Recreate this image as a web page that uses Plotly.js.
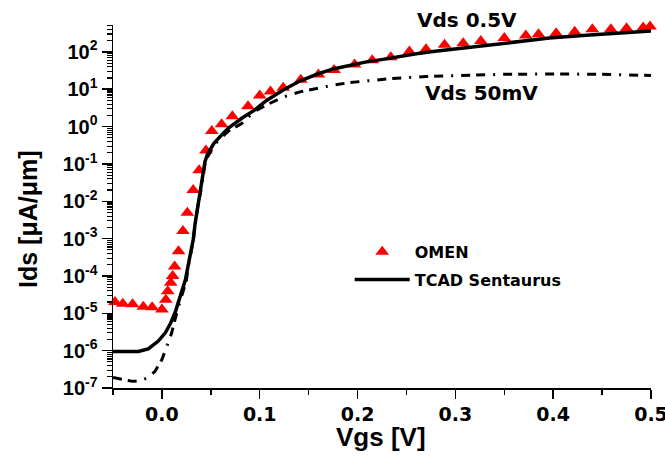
<!DOCTYPE html>
<html>
<head>
<meta charset="utf-8">
<script src="https://cdn.plot.ly/plotly-3.0.1.min.js"></script>
<style>
  html, body { margin: 0; padding: 0; background: #ffffff; }
  #chart { width: 665px; height: 459px; }
</style>
</head>
<body>
<div id="chart"></div>
<script>
// Transfer characteristics: drain current (µA/µm) versus gate voltage (V)

// OMEN simulation, Vds = 0.5 V
const omenVgs = [-0.048, -0.040, -0.030, -0.019, -0.010, 0.000, 0.004, 0.006, 0.009, 0.011,
                 0.013, 0.017, 0.0215, 0.026, 0.032, 0.038, 0.045, 0.051, 0.061, 0.072,
                 0.088, 0.100, 0.111, 0.124, 0.142, 0.160, 0.176, 0.197, 0.215, 0.234,
                 0.253, 0.270, 0.289, 0.308, 0.326, 0.350, 0.372, 0.385, 0.403, 0.422,
                 0.440, 0.459, 0.475, 0.492, 0.499];
const omenIds = [2.0e-5, 1.8e-5, 1.74e-5, 1.5e-5, 1.45e-5, 1.26e-5, 2.3e-5, 3.9e-5, 6.6e-5, 1.0e-4,
                 1.8e-4, 4.6e-4, 1.6e-3, 4.9e-3, 2.0e-2, 6.8e-2, 0.23, 0.76, 1.15, 1.9,
                 3.5, 6.8, 8.7, 11, 18, 25, 33, 46, 60, 72,
                 102, 117, 155, 170, 195, 234, 275, 295, 316, 347,
                 407, 407, 427, 447, 479];

// TCAD Sentaurus, Vds = 0.5 V
const tcadVgs05 = [-0.050, -0.024, -0.014, -0.004, 0.0035, 0.009, 0.014, 0.019, 0.024, 0.028,
                   0.032, 0.034, 0.037, 0.040, 0.0415, 0.044, 0.0465, 0.049, 0.053, 0.058,
                   0.068, 0.082, 0.095, 0.107, 0.124, 0.141, 0.158, 0.175, 0.192, 0.209,
                   0.226, 0.243, 0.260, 0.277, 0.300, 0.328, 0.362, 0.396, 0.430, 0.464,
                   0.500];
const tcadIds05 = [9.5e-7, 9.5e-7, 1.12e-6, 1.78e-6, 3.0e-6, 5.5e-6, 1.15e-5, 2.9e-5, 7.9e-5, 2.75e-4,
                   9.3e-4, 2.6e-3, 8.9e-3, 2.2e-2, 5.0e-2, 0.115, 0.18, 0.24, 0.35, 0.49,
                   0.91, 1.7, 2.8, 5.0, 9.5, 16.6, 25, 35, 44, 54,
                   63, 76, 89, 102, 120, 148, 190, 234, 275, 316,
                   363];

// TCAD Sentaurus, Vds = 50 mV
const tcadVgs50m = [-0.050, -0.042, -0.032, -0.024, -0.014, -0.007, 0.000, 0.005, 0.010, 0.015,
                    0.020, 0.025, 0.028, 0.032, 0.034, 0.037, 0.040, 0.044, 0.0465, 0.049,
                    0.053, 0.058, 0.068, 0.082, 0.094, 0.107, 0.124, 0.141, 0.158, 0.175,
                    0.192, 0.215, 0.236, 0.270, 0.300, 0.350, 0.400, 0.450, 0.500];
const tcadIds50m = [1.9e-7, 1.7e-7, 1.55e-7, 1.5e-7, 1.9e-7, 2.8e-7, 5.8e-7, 1.3e-6, 3.0e-6, 1.0e-5,
                    2.9e-5, 7.6e-5, 2.5e-4, 8.7e-4, 2.45e-3, 8.3e-3, 2.0e-2, 0.10, 0.15, 0.20,
                    0.30, 0.44, 0.76, 1.23, 2.5, 3.8, 6.2, 8.5, 10.7, 12.9,
                    15.1, 17.4, 19.5, 21.9, 23.4, 25.1, 25.7, 25.1, 23.4];

// Axis extents and tick labels
const vgsRange = [-0.05, 0.5];
const idsRange = [1e-7, 525];
const vgsTickVals = [0.0, 0.1, 0.2, 0.3, 0.4, 0.5];
const vgsTickText = ['0.0', '0.1', '0.2', '0.3', '0.4', '0.5'];
const idsTickVals = [1e-7, 1e-6, 1e-5, 1e-4, 1e-3, 1e-2, 1e-1, 1e0, 1e1, 1e2];
const idsTickText = ['10<sup>-7</sup>', '10<sup>-6</sup>', '10<sup>-5</sup>', '10<sup>-4</sup>',
                     '10<sup>-3</sup>', '10<sup>-2</sup>', '10<sup>-1</sup>', '10<sup>0</sup>',
                     '10<sup>1</sup>', '10<sup>2</sup>'];

// Log minor ticks at 2..9 of every decade inside the axis range
const idsMinorVals = [];
for (let e = -7; e <= 2; e++) {
  for (let m = 2; m <= 9; m++) {
    const v = m * Math.pow(10, e);
    if (v <= idsRange[1]) idsMinorVals.push(v);
  }
}

const traces = [
  {
    x: omenVgs, y: omenIds, name: 'OMEN', type: 'scatter', mode: 'markers',
    legendgroup: 'omen',
    marker: { symbol: 'triangle-up', size: 12, color: '#ff0000', line: { width: 0 } },
    cliponaxis: false
  },
  {
    x: tcadVgs05, y: tcadIds05, name: 'TCAD Sentaurus', type: 'scatter', mode: 'lines',
    legendgroup: 'tcad',
    line: { color: '#000000', width: 3.5 }
  },
  {
    x: tcadVgs50m, y: tcadIds50m, name: 'TCAD Sentaurus 50mV', type: 'scatter', mode: 'lines',
    showlegend: false,
    line: { color: '#000000', width: 3, dash: '9px,6px,9px,8px,2px,8px' }
  }
];

const tickFontY = { family: 'Liberation Sans, Arial, sans-serif', size: 20, color: '#000', weight: 'bold' };
const tickFontX = { family: 'DejaVu Sans, sans-serif', size: 19, color: '#000', weight: 'bold' };
const labelFont = { family: 'DejaVu Sans, sans-serif', size: 20, color: '#000', weight: 'bold' };
const titleFont = { family: 'Liberation Sans, Arial, sans-serif', size: 25, color: '#000', weight: 'bold' };

const layout = {
  width: 665, height: 459,
  margin: { l: 113, r: 14, t: 25, b: 71, pad: 0 },
  paper_bgcolor: '#ffffff', plot_bgcolor: '#ffffff',
  showlegend: true,
  legend: {
    x: 0.44, xanchor: 'left', y: 0.422, yanchor: 'top',
    bgcolor: 'rgba(0,0,0,0)', borderwidth: 0,
    font: { family: 'DejaVu Sans, sans-serif', size: 16, color: '#000', weight: 'bold' },
    itemwidth: 55, traceorder: 'grouped', tracegroupgap: 4
  },
  xaxis: {
    range: vgsRange, tickmode: 'array', tickvals: vgsTickVals, ticktext: vgsTickText,
    showline: true, linecolor: '#000', linewidth: 1.5,
    ticks: 'outside', ticklen: 9, tickwidth: 1.5, tickcolor: '#000',
    minor: { dtick: 0.05, tick0: 0, ticks: 'outside', ticklen: 5, tickwidth: 1.5, tickcolor: '#000' },
    showgrid: false, zeroline: false, mirror: false, automargin: false,
    ticklabeloverflow: 'allow',
    tickfont: tickFontX
  },
  yaxis: {
    type: 'log', range: [Math.log10(idsRange[0]), Math.log10(idsRange[1])],
    tickmode: 'array', tickvals: idsTickVals, ticktext: idsTickText,
    showline: true, linecolor: '#000', linewidth: 1.5,
    ticks: 'outside', ticklen: 10, tickwidth: 1.5, tickcolor: '#000',
    minor: { tickmode: 'array', tickvals: idsMinorVals, ticks: 'outside', ticklen: 5, tickwidth: 1.2, tickcolor: '#000' },
    showgrid: false, zeroline: false, mirror: false, automargin: false,
    ticklabeloverflow: 'allow',
    tickfont: tickFontY
  },
  annotations: [
    {
      text: 'Ids [μA/μm]', textangle: -90, showarrow: false,
      xref: 'paper', yref: 'paper', x: -0.158, y: 0.4656, xanchor: 'center', yanchor: 'middle',
      font: titleFont
    },
    {
      text: 'Vgs [V]', showarrow: false,
      xref: 'paper', yref: 'paper', x: 0.498, y: -0.134, xanchor: 'center', yanchor: 'middle',
      font: { family: 'Liberation Sans, Arial, sans-serif', size: 26, color: '#000', weight: 'bold' }
    },
    {
      text: 'Vds 0.5V', showarrow: false,
      xref: 'x', yref: 'paper', x: 0.2586, y: 1.014, xanchor: 'left', yanchor: 'middle',
      font: labelFont
    },
    {
      text: 'Vds 50mV', showarrow: false,
      xref: 'x', yref: 'y', x: 0.2667, y: 0.89, xanchor: 'left', yanchor: 'middle',
      font: labelFont
    }
  ]
};

Plotly.newPlot('chart', traces, layout, { staticPlot: true, displayModeBar: false });
</script>
</body>
</html>
